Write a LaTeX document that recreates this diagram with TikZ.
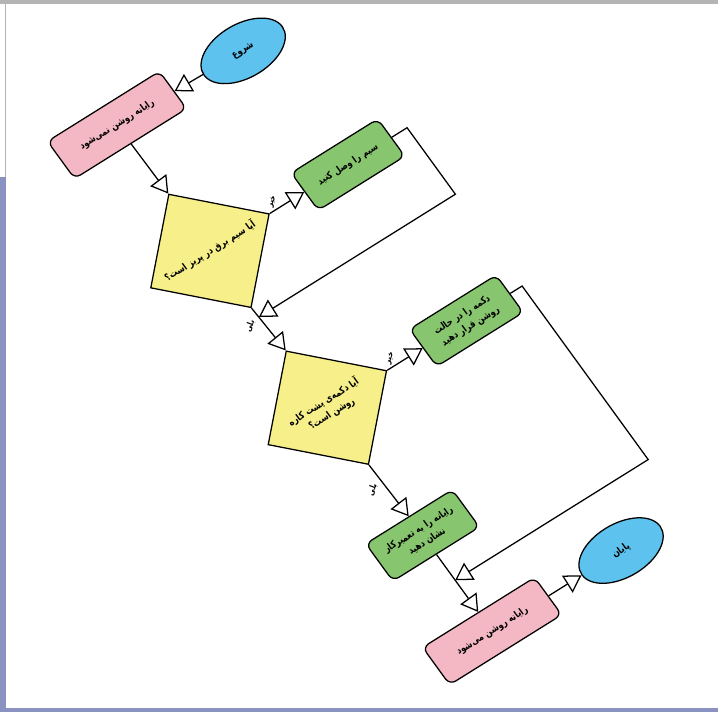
\documentclass[tikz,border=0pt]{standalone}
\usepackage{fontspec}
\usepackage{tikz}
\usetikzlibrary{arrows.meta}
\usetikzlibrary{shapes.geometric}
\usetikzlibrary{positioning}
\TeXXeTstate=1
\newfontfamily\farsi[Script=Arabic, FakeStretch=0.82]{DejaVu Sans}
\newcommand{\fa}[1]{\beginR #1\endR}
\definecolor{fc-start}{HTML}{5EC2EE}
\definecolor{fc-pink}{HTML}{F4B8C4}
\definecolor{fc-yellow}{HTML}{F6EF8A}
\definecolor{fc-green}{HTML}{88C56F}
\definecolor{fc-frame}{HTML}{8A92C2}
\definecolor{fc-top}{HTML}{B4B4B4}

\begin{document}
\begin{tikzpicture}[
    every node/.style={font=\farsi\bfseries\fontsize{7}{10}\selectfont, align=center},
    terminal/.style={ellipse, draw=black, line width=0.9pt, fill=fc-start, minimum width=2.3cm, minimum height=1.35cm, inner sep=1pt},
    process/.style={rectangle, rounded corners=5pt, draw=black, line width=0.9pt, minimum width=3.3cm, minimum height=1.15cm},
    action/.style={rectangle, rounded corners=5pt, draw=black, line width=0.9pt, fill=fc-green, minimum width=2.55cm, minimum height=1.15cm, inner sep=2pt},
    decision/.style={diamond, draw=black, line width=0.9pt, fill=fc-yellow, minimum width=3.5cm, minimum height=3.5cm, inner sep=0pt},
    answer/.style={font=\farsi\bfseries\fontsize{6}{7}\selectfont, rotate=35, inner sep=1pt},
    flow/.style={draw=black, line width=0.9pt, -{Triangle[open, length=0.42cm, width=0.5cm, line width=0.9pt]}}
]
    \useasboundingbox (0,0) rectangle (17.95,-17.8);

    % Page frame
    \fill[white] (0,0) rectangle (17.95,-17.8);
    \fill[fc-top] (0,0) rectangle (17.95,-0.1);
    \draw[fc-top, line width=0.8pt] (0.13,-0.1) -- (0.13,-4.42);
    \fill[fc-frame] (0,-4.42) rectangle (0.15,-17.8);
    \fill[fc-frame] (0,-17.7) rectangle (17.95,-17.8);

    \begin{scope}[shift={(2.925,-3.125)}, rotate=32, xslant=-0.07, transform shape]
        % Terminals and main column
        \node[terminal] (start) at (3.65,-0.1) {\fa{شروع}};
        \node[process, fill=fc-pink] (nopower) at (0,0) {\fa{رایانه روشن نمی^^^^200cشود}};
        \node[decision] (askplug) at (0.03,-3.9) {\fa{آیا سیم برق در پریز است؟}};
        \node[decision] (askbutton) at (0.1,-8.78) {\fa{آیا دکمه^^^^200cی پشت کاره}\\\fa{روشن است؟}};
        \node[action] (repair) at (0.15,-12.75) {\fa{رایانه را به تعمیرکار}\\\fa{نشان دهید}};
        \node[process, fill=fc-pink] (works) at (0.15,-15.7) {\fa{رایانه روشن می^^^^200cشود}};
        \node[terminal] (finish) at (3.95,-15.7) {\fa{پایان}};

        % Side actions
        \node[action] (connect) at (4.1,-3.9) {\fa{سیم را وصل کنید}};
        \node[action] (pressbtn) at (4.2,-8.78) {\fa{دکمه را در حالت}\\\fa{روشن قرار دهید}};

        % Return points on the column
        \coordinate (join1) at (0.05,-5.95);
        \coordinate (join2) at (0.15,-14.13);

        % Connections
        \draw[flow] (start) -- (nopower);
        \draw[flow] (nopower) -- (askplug.north);
        \draw[flow] (askplug.east) -- (connect.west) node[answer, pos=0.3, above=3pt] {\fa{خیر}};
        \draw[flow] (askplug.south) -- (askbutton.north) node[answer, pos=0.18, left=4pt] {\fa{بلی}};
        \draw[flow] (connect.east) -- ++(0.45,0) |- (join1);
        \draw[flow] (askbutton.east) -- (pressbtn.west) node[answer, pos=0.3, above=3pt] {\fa{خیر}};
        \draw[flow] (askbutton.south) -- (repair.north) node[answer, pos=0.28, left=4pt] {\fa{بلی}};
        \draw[flow] (pressbtn.east) -- ++(0.35,0) |- (join2);
        \draw[flow] (repair.south) -- (works.north);
        \draw[flow] (works.east) -- (finish.west);
    \end{scope}
\end{tikzpicture}
\end{document}
